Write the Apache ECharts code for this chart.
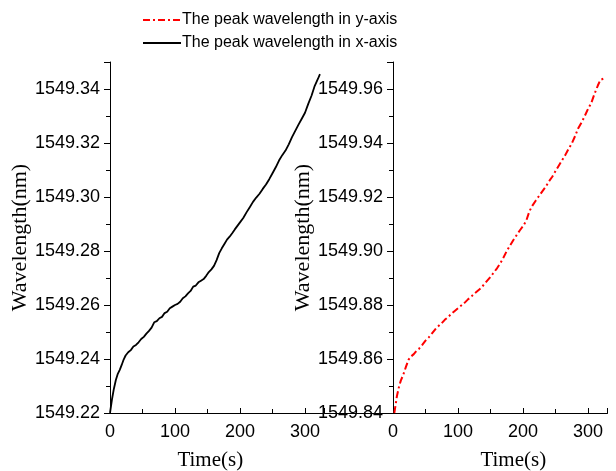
<!DOCTYPE html>
<html>
<head>
<meta charset="utf-8">
<title>Peak wavelength vs time</title>
<script src="https://cdn.jsdelivr.net/npm/echarts@6/dist/echarts.min.js"></script>
<style>
  html, body { margin: 0; padding: 0; background: #fff; }
  #chart { width: 616px; height: 471px; }
</style>
</head>
<body>
<div id="chart"></div>
<script>
// peak wavelength in x-axis (black, left panel)
const timeX = [0, 3, 6, 9, 12, 15, 18, 21, 24, 28, 32, 36, 40, 44, 48, 52, 56, 60, 64, 68,
  72, 76, 80, 84, 88, 92, 96, 100, 104, 108, 112, 116, 120, 124, 128, 132, 136, 140, 144, 148,
  152, 156, 160, 164, 168, 172, 176, 180, 184, 188, 192, 196, 200, 205, 210, 215, 220, 225, 230, 235,
  240, 245, 250, 255, 260, 265, 270, 275, 280, 285, 290, 295, 300, 305, 310, 315, 320, 323]
const waveX = [1549.2200, 1549.2250, 1549.2290, 1549.2322, 1549.2345, 1549.2360, 1549.2378, 1549.2398, 1549.2413, 1549.2425,
  1549.2433, 1549.2446, 1549.2452, 1549.2462, 1549.2474, 1549.2482, 1549.2494, 1549.2504, 1549.2516, 1549.2536,
  1549.2540, 1549.2551, 1549.2556, 1549.2570, 1549.2575, 1549.2588, 1549.2594, 1549.2600, 1549.2604, 1549.2612,
  1549.2625, 1549.2632, 1549.2643, 1549.2652, 1549.2668, 1549.2672, 1549.2684, 1549.2690, 1549.2696, 1549.2708,
  1549.2722, 1549.2732, 1549.2745, 1549.2766, 1549.2792, 1549.2810, 1549.2826, 1549.2842, 1549.2853, 1549.2866,
  1549.2880, 1549.2893, 1549.2906, 1549.2922, 1549.2943, 1549.2962, 1549.2982, 1549.2998, 1549.3012, 1549.3030,
  1549.3046, 1549.3066, 1549.3088, 1549.3110, 1549.3135, 1549.3155, 1549.3172, 1549.3195, 1549.3222, 1549.3245,
  1549.3268, 1549.3290, 1549.3312, 1549.3345, 1549.3375, 1549.3412, 1549.3438, 1549.3455]

// peak wavelength in y-axis (red, right panel)
const timeY = [2, 4, 6, 9, 12, 16, 20, 24, 28, 32, 36, 40, 45, 50, 55, 60, 65, 70, 75, 80,
  85, 90, 95, 100, 105, 110, 115, 120, 125, 130, 135, 140, 145, 150, 155, 160, 165, 170, 175, 180,
  185, 190, 195, 200, 205, 210, 215, 220, 225, 230, 235, 240, 245, 250, 255, 260, 265, 270, 275, 280,
  285, 290, 295, 300, 305, 310, 315, 319, 322, 326]
const waveY = [1549.8400, 1549.8430, 1549.8462, 1549.8495, 1549.8520, 1549.8543, 1549.8572, 1549.8598, 1549.8610, 1549.8618,
  1549.8630, 1549.8638, 1549.8652, 1549.8668, 1549.8680, 1549.8695, 1549.8710, 1549.8722, 1549.8733, 1549.8746,
  1549.8756, 1549.8768, 1549.8778, 1549.8788, 1549.8798, 1549.8808, 1549.8820, 1549.8830, 1549.8842, 1549.8852,
  1549.8862, 1549.8876, 1549.8890, 1549.8904, 1549.8920, 1549.8936, 1549.8954, 1549.8976, 1549.9000, 1549.9020,
  1549.9040, 1549.9058, 1549.9076, 1549.9092, 1549.9112, 1549.9148, 1549.9170, 1549.9188, 1549.9205, 1549.9222,
  1549.9238, 1549.9258, 1549.9275, 1549.9296, 1549.9316, 1549.9336, 1549.9355, 1549.9378, 1549.9398, 1549.9425,
  1549.9455, 1549.9476, 1549.9500, 1549.9526, 1549.9548, 1549.9582, 1549.9612, 1549.9634, 1549.9639, 1549.9640]

const xTicks = [0, 100, 200, 300]
const leftYTicks = ['1549.22', '1549.24', '1549.26', '1549.28', '1549.30', '1549.32', '1549.34']
const rightYTicks = ['1549.84', '1549.86', '1549.88', '1549.90', '1549.92', '1549.94', '1549.96']

const sans = 'Liberation Sans, Arial, sans-serif'
const serif = 'Liberation Serif, Times New Roman, serif'

function zip(a, b) {
  return a.map((v, i) => [v, b[i]])
}

function xAxisFor(gridIndex, namePad) {
  return {
    type: 'value',
    gridIndex: gridIndex,
    min: 0,
    max: 330,
    interval: 100,
    name: 'Time(s)',
    nameLocation: 'middle',
    nameGap: 37,
    nameTextStyle: { fontFamily: serif, fontSize: 21, color: '#000', padding: namePad },
    axisLine: { show: true, onZero: false, lineStyle: { color: '#000', width: 1 } },
    axisTick: { show: true, inside: true, length: 5, lineStyle: { color: '#000' } },
    minorTick: { show: true, splitNumber: 2, length: 4, lineStyle: { color: '#000' } },
    axisLabel: {
      color: '#000', fontFamily: sans, fontSize: 18, margin: 10,
      showMaxLabel: false,
      formatter: v => xTicks.includes(v) ? String(v) : ''
    },
    splitLine: { show: false }
  }
}

function yAxisFor(gridIndex, min, max, labels, gap) {
  return {
    type: 'value',
    gridIndex: gridIndex,
    min: min,
    max: max,
    interval: 0.02,
    name: 'Wavelength(nm)',
    nameLocation: 'middle',
    nameGap: gap,
    nameTextStyle: { fontFamily: serif, fontSize: 22, color: '#000' },
    axisLine: { show: true, lineStyle: { color: '#000', width: 1 } },
    axisTick: { show: true, inside: false, length: 6, lineStyle: { color: '#000' } },
    minorTick: { show: true, splitNumber: 2, length: 4, lineStyle: { color: '#000' } },
    axisLabel: {
      color: '#000', fontFamily: sans, fontSize: 18, margin: 10,
      showMaxLabel: false,
      formatter: v => {
        const s = v.toFixed(2)
        return labels.includes(s) ? s : ''
      }
    },
    splitLine: { show: false }
  }
}

const chart = echarts.init(document.getElementById('chart'), null, { renderer: 'canvas' })

const option = {
  backgroundColor: '#fff',
  animation: false,
  legend: {
    orient: 'vertical',
    left: 142,
    top: 12,
    itemWidth: 38,
    itemHeight: 12,
    itemGap: 7,
    padding: 0,
    itemStyle: { opacity: 0 },
    data: ['The peak wavelength in y-axis', 'The peak wavelength in x-axis'],
    textStyle: { fontFamily: sans, fontSize: 16, color: '#000', padding: [0, 0, 0, -4] }
  },
  grid: [
    { left: 110, top: 62, width: 214.5, height: 351, outerBoundsMode: 'none', containLabel: false },
    { left: 393, top: 62, width: 214.5, height: 351, outerBoundsMode: 'none', containLabel: false }
  ],
  xAxis: [xAxisFor(0, [0, 14, 0, 0]), xAxisFor(1, [0, 0, 0, 26])],
  yAxis: [
    yAxisFor(0, 1549.22, 1549.35, leftYTicks, 75),
    yAxisFor(1, 1549.84, 1549.97, rightYTicks, 77)
  ],
  series: [
    {
      name: 'The peak wavelength in y-axis',
      type: 'line',
      xAxisIndex: 1,
      yAxisIndex: 1,
      data: zip(timeY, waveY),
      showSymbol: false,
      symbol: 'none',
      smooth: false,
      lineStyle: { color: '#ff0000', width: 2, type: [7, 3, 2, 3] },
      itemStyle: { color: '#ff0000' }
    },
    {
      name: 'The peak wavelength in x-axis',
      type: 'line',
      xAxisIndex: 0,
      yAxisIndex: 0,
      data: zip(timeX, waveX),
      showSymbol: false,
      symbol: 'none',
      smooth: false,
      lineStyle: { color: '#000', width: 1.8 },
      itemStyle: { color: '#000' }
    }
  ]
}

chart.setOption(option)

// the bottom axis line runs on between the two panels
const a = chart.convertToPixel({ gridIndex: 0 }, [330, 1549.22])
const b = chart.convertToPixel({ gridIndex: 1 }, [0, 1549.84])
chart.setOption({
  graphic: [{
    type: 'line',
    shape: { x1: a[0], y1: Math.round(a[1]) + 0.5, x2: b[0], y2: Math.round(a[1]) + 0.5 },
    style: { stroke: '#000', lineWidth: 1 },
    silent: true
  }]
})
</script>
</body>
</html>
